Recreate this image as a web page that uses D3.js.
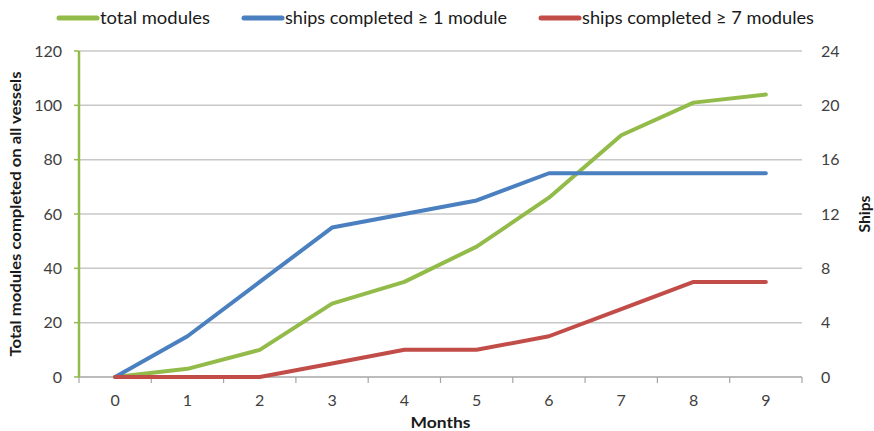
<!DOCTYPE html>
<html>
<head>
<meta charset="utf-8">
<script src="https://cdn.jsdelivr.net/npm/d3@7"></script>
<style>
  html, body { margin: 0; padding: 0; background: #fff; }
  svg { display: block; font-family: Lato, "Open Sans", sans-serif; }
</style>
</head>
<body>
<svg id="chart" width="874" height="431"></svg>
<script>
// Months since start
const months = [0, 1, 2, 3, 4, 5, 6, 7, 8, 9];
// Cumulative modules completed on all vessels (left axis)
const totalModules = [0, 3, 10, 27, 35, 48, 66, 89, 101, 104];
// Ships that completed at least 1 module (right axis)
const shipsAtLeast1 = [0, 3, 7, 11, 12, 13, 15, 15, 15, 15];
// Ships that completed at least 7 modules (right axis)
const shipsAtLeast7 = [0, 0, 0, 1, 2, 2, 3, 5, 7, 7];

const leftTicks = [0, 20, 40, 60, 80, 100, 120];
const rightTicks = [0, 4, 8, 12, 16, 20, 24];

const series = [
  { name: "total modules", values: totalModules, axis: "left", color: "#93BB4A" },
  { name: "ships completed \u2265 1 module", values: shipsAtLeast1, axis: "right", color: "#4A7FC0" },
  { name: "ships completed \u2265 7 modules", values: shipsAtLeast7, axis: "right", color: "#C24C48" }
];

const svg = d3.select("#chart");
const margin = { left: 79, right: 72, top: 51, bottom: 54 };
const W = 874, H = 431;
const x0 = margin.left, x1 = W - margin.right;
const yTop = margin.top, yBot = H - margin.bottom;

const x = d3.scaleBand().domain(months).range([x0, x1]).padding(0);
const yL = d3.scaleLinear().domain([0, 120]).range([yBot, yTop]);
const yR = d3.scaleLinear().domain([0, 24]).range([yBot, yTop]);

const textColor = "#404040";

// horizontal gridlines
svg.append("g")
  .selectAll("line")
  .data(leftTicks.filter(d => d > 0))
  .join("line")
  .attr("x1", x0).attr("x2", x1)
  .attr("y1", d => yL(d)).attr("y2", d => yL(d))
  .attr("stroke", "#C8C8C8").attr("stroke-width", 1.5);

// x axis (category boundaries as ticks)
const xAxis = svg.append("g").attr("transform", `translate(0,${yBot})`);
xAxis.append("line").attr("x1", x0).attr("x2", x1).attr("y1", 0).attr("y2", 0)
  .attr("stroke", "#A6A6A6").attr("stroke-width", 1.5);
xAxis.selectAll("line.tick")
  .data(months.concat([months.length]))
  .join("line").attr("class", "tick")
  .attr("x1", (d, i) => i < months.length ? x(d) : x1)
  .attr("x2", (d, i) => i < months.length ? x(d) : x1)
  .attr("y1", 0).attr("y2", 6)
  .attr("stroke", "#A6A6A6").attr("stroke-width", 1.2);
xAxis.selectAll("text")
  .data(months)
  .join("text")
  .attr("x", d => x(d) + x.bandwidth() / 2)
  .attr("y", 29)
  .attr("text-anchor", "middle")
  .attr("font-size", 16)
  .attr("fill", textColor)
  .text(d => d);

// left axis
const leftAxis = svg.append("g").attr("transform", `translate(${x0},0)`);
leftAxis.append("line").attr("x1", 0).attr("x2", 0).attr("y1", yTop).attr("y2", yBot)
  .attr("stroke", "#93BB4A").attr("stroke-width", 2.5);
leftAxis.selectAll("line.tick").data(leftTicks).join("line").attr("class", "tick")
  .attr("x1", -5).attr("x2", 0)
  .attr("y1", d => yL(d)).attr("y2", d => yL(d))
  .attr("stroke", "#93BB4A").attr("stroke-width", 1.5);
leftAxis.selectAll("text").data(leftTicks).join("text")
  .attr("x", -17).attr("y", d => yL(d))
  .attr("dy", "0.35em")
  .attr("text-anchor", "end")
  .attr("font-size", 16)
  .attr("fill", textColor)
  .text(d => d);

// right axis labels
svg.append("g").selectAll("text").data(rightTicks).join("text")
  .attr("x", x1 + 19).attr("y", d => yR(d))
  .attr("dy", "0.35em")
  .attr("text-anchor", "start")
  .attr("font-size", 16)
  .attr("fill", textColor)
  .text(d => d);

// axis titles
svg.append("text")
  .attr("transform", `translate(21,214) rotate(-90)`)
  .attr("text-anchor", "middle")
  .attr("font-size", 15).attr("font-weight", "bold")
  .attr("fill", "#1a1a1a")
  .attr("textLength", 285).attr("lengthAdjust", "spacingAndGlyphs")
  .text("Total modules completed on all vessels");
svg.append("text")
  .attr("transform", `translate(870,${(yTop + yBot) / 2}) rotate(-90)`)
  .attr("text-anchor", "middle")
  .attr("font-size", 15).attr("font-weight", "bold")
  .attr("fill", "#1a1a1a")
  .attr("textLength", 37).attr("lengthAdjust", "spacingAndGlyphs")
  .text("Ships");
svg.append("text")
  .attr("x", (x0 + x1) / 2).attr("y", 428)
  .attr("text-anchor", "middle")
  .attr("font-size", 15.5).attr("font-weight", "bold")
  .attr("fill", "#1a1a1a")
  .attr("textLength", 60).attr("lengthAdjust", "spacingAndGlyphs")
  .text("Months");

// series lines
const plot = svg.append("g");
series.forEach(s => {
  const yS = s.axis === "left" ? yL : yR;
  const line = d3.line()
    .x((d, i) => x(months[i]) + x.bandwidth() / 2)
    .y(d => yS(d));
  plot.append("path")
    .datum(s.values)
    .attr("d", line)
    .attr("fill", "none")
    .attr("stroke", s.color)
    .attr("stroke-width", 4)
    .attr("stroke-linejoin", "round")
    .attr("stroke-linecap", "round");
});

// legend
const legendX = [57, 242, 539];
const legendTextLen = [110, 222, 232];
const legend = svg.append("g");
series.forEach((s, i) => {
  const g = legend.append("g").attr("transform", `translate(${legendX[i]},18)`);
  g.append("line").attr("x1", 2).attr("x2", 40).attr("y1", 0).attr("y2", 0)
    .attr("stroke", s.color).attr("stroke-width", 5).attr("stroke-linecap", "round");
  g.append("text").attr("x", 43).attr("y", 0).attr("dy", "0.35em")
    .attr("font-size", 16.5).attr("fill", "#1a1a1a")
    .attr("textLength", legendTextLen[i]).attr("lengthAdjust", "spacingAndGlyphs")
    .text(s.name);
});
</script>
</body>
</html>
